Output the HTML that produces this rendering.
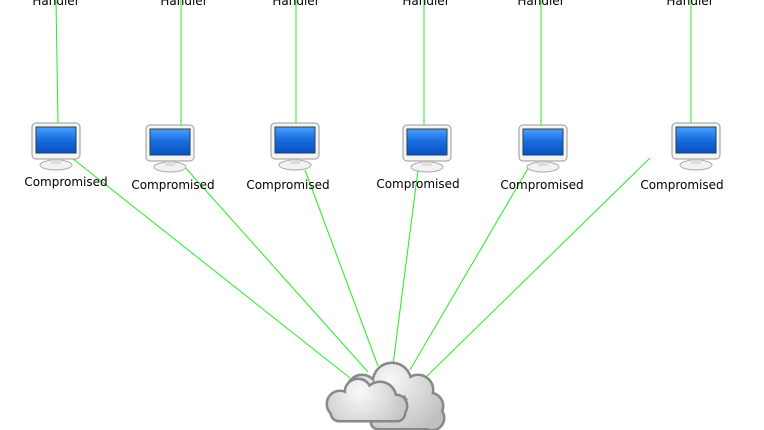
<!DOCTYPE html>
<html><head><style>body{margin:0;background:#fff}svg{display:block}text{font-family:"DejaVu Sans","Liberation Sans",sans-serif;font-size:12px;fill:#000}</style></head><body>
<svg width="764" height="430" viewBox="0 0 764 430">
<defs>
<linearGradient id="sc" x1="0" y1="0" x2="0" y2="1"><stop offset="0" stop-color="#4aa0ff"/><stop offset="0.45" stop-color="#1a6fe0"/><stop offset="1" stop-color="#0a4fc0"/></linearGradient>
<radialGradient id="cl" gradientUnits="userSpaceOnUse" cx="390" cy="380" r="60"><stop offset="0" stop-color="#f8f8f8"/><stop offset="1" stop-color="#c0c0c0"/></radialGradient>
<radialGradient id="cl2" gradientUnits="userSpaceOnUse" cx="360" cy="392" r="45"><stop offset="0" stop-color="#fafafa"/><stop offset="1" stop-color="#c8c8c8"/></radialGradient>
<g id="pc">
<ellipse cx="0" cy="42" rx="16" ry="5" fill="#f2f2f2" stroke="#aaa"/>
<rect x="-5" y="34" width="10" height="7" fill="#ddd"/>
<rect x="-24" y="0" width="48" height="36" rx="4" fill="#f4f4f4" stroke="#999"/>
<rect x="-20" y="4" width="40" height="26" fill="url(#sc)" stroke="#245"/>
</g>
<g id="back">
<circle cx="362" cy="390" r="14"/><circle cx="392" cy="382" r="18"/><circle cx="418" cy="390" r="14"/><circle cx="430" cy="406" r="12"/><circle cx="385" cy="412" r="12"/><circle cx="408" cy="414" r="14"/><circle cx="432" cy="418" r="11"/><rect x="372" y="400" width="66" height="28" rx="6"/>
</g>
<g id="front">
<circle cx="340" cy="404" r="12"/><circle cx="358" cy="392" r="12"/><circle cx="380" cy="398" r="15"/><circle cx="396" cy="406" r="10"/><circle cx="350" cy="410" r="10"/><rect x="332" y="402" width="72" height="18" rx="7"/>
</g>
</defs>
<g stroke="#33ee33" stroke-width="1.1" fill="none">
<line x1="56" y1="0" x2="58" y2="124"/><line x1="181" y1="0" x2="181" y2="126"/><line x1="296" y1="0" x2="296" y2="124"/><line x1="424" y1="0" x2="424" y2="126"/><line x1="541" y1="0" x2="541" y2="126"/><line x1="691" y1="0" x2="691" y2="124"/>
<line x1="72" y1="158" x2="350" y2="378"/><line x1="183" y1="165" x2="368" y2="372"/><line x1="305" y1="170" x2="378" y2="366"/><line x1="418" y1="170" x2="393" y2="365"/><line x1="530" y1="165" x2="410" y2="370"/><line x1="650" y1="158" x2="425" y2="378"/>
</g>
<text x="56" y="5" text-anchor="middle">Handler</text><text x="184" y="5" text-anchor="middle">Handler</text><text x="296" y="5" text-anchor="middle">Handler</text><text x="426" y="5" text-anchor="middle">Handler</text><text x="541" y="5" text-anchor="middle">Handler</text><text x="690" y="5" text-anchor="middle">Handler</text>
<use href="#pc" x="56" y="123"/><use href="#pc" x="170" y="125"/><use href="#pc" x="295" y="123"/><use href="#pc" x="427" y="125"/><use href="#pc" x="543" y="125"/><use href="#pc" x="696" y="123"/>
<text x="66" y="186" text-anchor="middle">Compromised</text><text x="173" y="189" text-anchor="middle">Compromised</text><text x="288" y="189" text-anchor="middle">Compromised</text><text x="418" y="188" text-anchor="middle">Compromised</text><text x="542" y="189" text-anchor="middle">Compromised</text><text x="682" y="189" text-anchor="middle">Compromised</text>
<use href="#back" fill="#888" stroke="#888" stroke-width="5"/>
<use href="#back" fill="url(#cl)"/>
<use href="#front" fill="#888" stroke="#888" stroke-width="5"/>
<use href="#front" fill="url(#cl2)"/>
</svg>
</body></html>
